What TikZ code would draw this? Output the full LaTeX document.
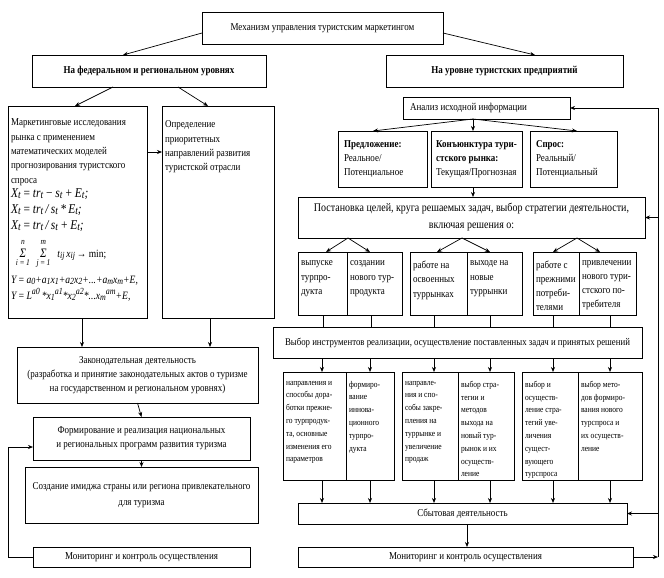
\documentclass[tikz,border=0pt]{standalone}
\usepackage{fontspec}
\setmainfont[Scale=1.17,FakeStretch=0.855]{Liberation Serif}
\usetikzlibrary{arrows.meta,calc}
\newcommand\fsz[2]{\fontsize{#1pt}{#2pt}\selectfont}
\newcommand\sbs[1]{\raisebox{-0.3ex}{\fsz{9.5}{9.5}\itshape #1}}
\newcommand\sbm[1]{\raisebox{-0.35ex}{\fsz{8}{8}\itshape #1}}
\newcommand\spm[1]{\raisebox{0.9ex}{\fsz{8}{8}\itshape #1}}
\newcommand\msum[2]{\mathop{\mbox{\fsz{11}{11}Σ}}\limits^{\mbox{\raisebox{2.5pt}{\fsz{7.5}{7.5}\itshape #1}}}_{\mbox{\raisebox{-2.5pt}{\fsz{7.5}{7.5}\itshape #2}}}}
% #1 opts, #2 name, #3 x, #4 y, #5 w, #6 h, #7 inner pos, #8 text
\newcommand\bx[8][]{%
  \node[box,#1,anchor=north west,minimum width=#5pt,minimum height=#6pt] (#2) at (#3,#4)
  {\parbox[c][\dimexpr#6pt-6pt\relax][#7]{\dimexpr#5pt-6pt\relax}{#8}};}
\begin{document}
\begin{tikzpicture}[x=1pt,y=-1pt,
  box/.style={draw,line width=0.8pt,inner sep=3pt,outer sep=0pt},
  arr/.style={-{Stealth[length=5pt,width=4pt]},line width=0.7pt},
  ln/.style={line width=0.7pt}]
\useasboundingbox[fill=white] (0,0) rectangle (664,578);
% ---- top
\bx{top}{202}{12}{241}{32}{c}{\centering\fsz{9}{11}Механизм управления туристским маркетингом}
\bx{fed}{32}{55}{234}{32}{c}{\centering\bfseries\fsz{9}{11}На федеральном и региональном уровнях}
\bx{ent}{386}{55}{237}{32}{c}{\centering\bfseries\fsz{9}{11}На уровне туристских предприятий}
\draw[arr] ($(top.north west)+(0,21)$) -- ($(fed.north west)+(91,0)$);
\draw[arr] ($(top.north east)+(0,21)$) -- ($(ent.north west)+(149,0)$);
% ---- left column
\bx{mk}{8}{106}{139}{212}{t}{\raggedright\vspace*{10pt}%
{\fsz{9}{14.3}Маркетинговые исследования\\
рынка с применением\\
математических моделей\\
прогнозирования туристского\\
спроса\par}
\vspace{-2pt}
{\fsz{11.5}{16}\itshape
X\sbs{t}\,=\,tr\sbs{t}\,−\,s\sbs{t}\,+\,E\sbs{t};\\
X\sbs{t}\,=\,tr\sbs{t}\,/\,s\sbs{t}\,*\,E\sbs{t};\\
X\sbs{t}\,=\,tr\sbs{t}\,/\,s\sbs{t}\,+\,E\sbs{t};\par}
\vspace{12pt}
{\fsz{9.5}{16}\itshape\hspace*{5pt}\raisebox{0pt}[4pt][2pt]{$\msum{n}{i\,=\,1}\;\;\msum{m}{j\,=\,1}$\ \ \ t\sbm{ij}\,x\sbm{ij}\,{\upshape→ min;}}\par}
\vspace{10pt}
{\fsz{9.6}{16}\itshape Y\,=\,a\sbm{0}+a\sbm{1}x\sbm{1}+a\sbm{2}x\sbm{2}+...+a\sbm{m}x\sbm{m}+E,\\
Y\,=\,L\spm{a0}\,*x\sbm{1}\spm{a1}*x\sbm{2}\spm{a2}*...x\sbm{m}\spm{am}+E,\par}}
\bx{def}{162}{106}{112}{212}{t}{\raggedright\vspace*{12pt}\fsz{9}{14.2}%
Определение\\ приоритетных\\ направлений развития\\ туристской отрасли}
\draw[arr] ($(fed.south west)+(81,0)$) -- ($(mk.north west)+(67,0)$);
\draw[arr] ($(fed.south west)+(146,0)$) -- ($(def.north west)+(46,0)$);
\draw[arr] ($(mk.north east)+(0,46)$) -- ($(def.north west)+(0,46)$);
\bx{law}{17}{347}{241}{56}{c}{\centering\fsz{9}{14}Законодательная деятельность\\
(разработка и принятие законодательных актов о туризме\\
на государственном и региональном уровнях)}
\draw[arr] ($(mk.south west)+(74,0)$) -- ($(law.north west)+(65,0)$);
\draw[arr] ($(def.south west)+(48,0)$) -- ($(law.north west)+(193,0)$);
\bx{form}{33}{417}{217}{43}{c}{\centering\fsz{9}{14}Формирование и реализация национальных\\
и региональных программ развития туризма}
\bx{img}{25}{467}{233}{56}{c}{\centering\fsz{9}{16}Создание имиджа страны или региона привлекательного\\ для туризма}
\bx{monL}{33}{547}{217}{20}{c}{\centering\fsz{9}{11}Мониторинг и контроль осуществления}
\draw[arr] (law.south) -- (form.north);
\draw[arr] (form.south) -- (img.north);
\draw[arr] (monL.west) -- ++(-25,0) |- ($(form.north west)+(0,30)$);
% ---- right column
\bx{an}{403}{97}{167}{22}{c}{\raggedright\fsz{9}{11}\hspace*{4pt}Анализ исходной информации}
\bx{pr}{338}{131}{89}{56}{c}{\raggedright\fsz{9}{14}\hspace*{3pt}\textbf{Предложение:}\\\hspace*{3pt}Реальное/\\\hspace*{3pt}Потенциальное}
\bx{kon}{431}{131}{91}{56}{c}{\raggedright\fsz{9}{14}\hspace*{2pt}\textbf{Конъюнктура тури-}\\\hspace*{2pt}\textbf{стского рынка:}\\\hspace*{2pt}Текущая/Прогнозная}
\bx{sp}{530}{131}{87}{56}{c}{\raggedright\fsz{9}{14}\hspace*{3pt}\textbf{Спрос:}\\\hspace*{3pt}Реальный/\\\hspace*{3pt}Потенциальный}
\coordinate (anb) at ($(an.south west)+(70,0)$);
\draw[arr] (anb) -- ($(pr.north west)+(35,0)$);
\draw[arr] (anb) -- (anb |- kon.north);
\draw[arr] (anb) -- ($(sp.north west)+(47,0)$);
\bx{post}{298}{197}{347}{41}{c}{\centering\fsz{10}{17}Постановка целей, круга решаемых задач, выбор стратегии деятельности,\\ включая решения о:}
\draw[arr] (anb |- kon.south) -- (anb |- post.north);
% six decision boxes
\bx{d1}{298}{252}{49}{63}{t}{\raggedright\vspace*{6pt}\fsz{9}{14.3}выпуске\\ турпро-\\ дукта}
\bx{d2}{347}{252}{55}{63}{t}{\raggedright\vspace*{6pt}\fsz{9}{14.3}создании\\ нового тур-\\ продукта}
\bx{d3}{410}{252}{57}{63}{t}{\raggedright\vspace*{6pt}\fsz{9}{14.3}работе на\\ освоенных\\ туррынках}
\bx{d4}{467}{252}{55}{63}{t}{\raggedright\vspace*{6pt}\fsz{9}{14.3}выходе на\\ новые\\ туррынки}
\bx{d5}{533}{252}{46}{63}{t}{\raggedright\vspace*{6pt}\fsz{9}{14}работе с\\ прежними\\ потреби-\\ телями}
\bx{d6}{579}{252}{57}{63}{t}{\raggedright\vspace*{6pt}\fsz{9}{14}привлечении\\ нового тури-\\ стского по-\\ требителя}
\coordinate (ap1) at ($(d1.north east |- post.south)+(1,0)$);
\coordinate (ap2) at ($(d3.north east |- post.south)+(-5,0)$);
\coordinate (ap3) at ($(d5.north east |- post.south)+(-2,0)$);
\draw[arr] (ap1) -- ($(d1.north west)+(28,0)$);
\draw[arr] (ap1) -- ($(d2.north west)+(23,0)$);
\draw[arr] (ap2) -- ($(d3.north west)+(27,0)$);
\draw[arr] (ap2) -- ($(d4.north west)+(23,0)$);
\draw[arr] (ap3) -- ($(d5.north west)+(20,0)$);
\draw[arr] (ap3) -- ($(d6.north west)+(21,0)$);
\bx{sel}{273}{327}{369}{31}{c}{\centering\fsz{8.8}{11}Выбор инструментов реализации, осуществление поставленных задач и принятых решений}
% bottom groups
\bx{b1}{283}{372}{63}{108}{t}{\raggedright\vspace*{6pt}\fsz{7.5}{12.8}направления и\\ способы дора-\\ ботки прежне-\\ го турпродук-\\ та, основные\\ изменения его\\ параметров}
\bx{b2}{346}{372}{48}{108}{t}{\raggedright\vspace*{6pt}\fsz{7.5}{12.8}формиро-\\ вание\\ иннова-\\ ционного\\ турпро-\\ дукта}
\bx{b3}{402}{372}{56}{108}{t}{\raggedright\vspace*{6pt}\fsz{7.5}{12.8}направле-\\ ния и спо-\\ собы закре-\\ пления на\\ туррынке и\\ увеличение\\ продаж}
\bx{b4}{458}{372}{56}{108}{t}{\raggedright\vspace*{6pt}\fsz{7.5}{12.8}выбор стра-\\ тегии и\\ методов\\ выхода на\\ новый тур-\\ рынок и их\\ осуществ-\\ ление}
\bx{b5}{522}{372}{56}{108}{t}{\raggedright\vspace*{6pt}\fsz{7.5}{12.8}выбор и\\ осуществ-\\ ление стра-\\ тегий уве-\\ личения\\ сущест-\\ вующего\\ турспроса}
\bx{b6}{578}{372}{64}{108}{t}{\raggedright\vspace*{6pt}\fsz{7.5}{12.8}выбор мето-\\ дов формиро-\\ вания нового\\ турспроса и\\ их осуществ-\\ ление}
\bx{sb}{298}{503}{329}{21}{c}{\centering\fsz{9}{11}Сбытовая деятельность}
\bx{monR}{298}{547}{335}{20}{c}{\centering\fsz{9}{11}Мониторинг и контроль осуществления}
% connectors through the columns
\foreach \d/\b/\dx/\bo in {d1/b1/25/39, d2/b2/24/24, d3/b3/24/32, d4/b4/23/32, d5/b5/20/31, d6/b6/31/32}{
  \coordinate (p1) at ($(\d.south west)+(\dx,0)$);
  \coordinate (p2) at ($(\b.north west)+(\bo,0)$);
  \draw[ln] (p1) -- (p1 |- sel.north);
  \draw[arr] (p2 |- sel.south) -- (p2);
  \draw[arr] (p2 |- \b.south) -- (p2 |- sb.north);
}
\draw[arr] ($(sb.south west)+(169,0)$) -- ($(monR.north west)+(169,0)$);
% right feedback
\coordinate (fbB) at ($(monR.east)+(25,0)$);
\coordinate (fbT) at ($(an.north east)+(88,11)$);
\draw[arr] (monR.east) -- (fbB);
\draw[ln] (fbB) -- (fbB |- fbT);
\draw[arr] (fbB |- fbT) -- (an.east |- fbT);
\draw[arr] (fbB |- post.east) -- (post.east);
\draw[arr] (fbB |- sb.east) -- (sb.east);
\end{tikzpicture}
\end{document}
